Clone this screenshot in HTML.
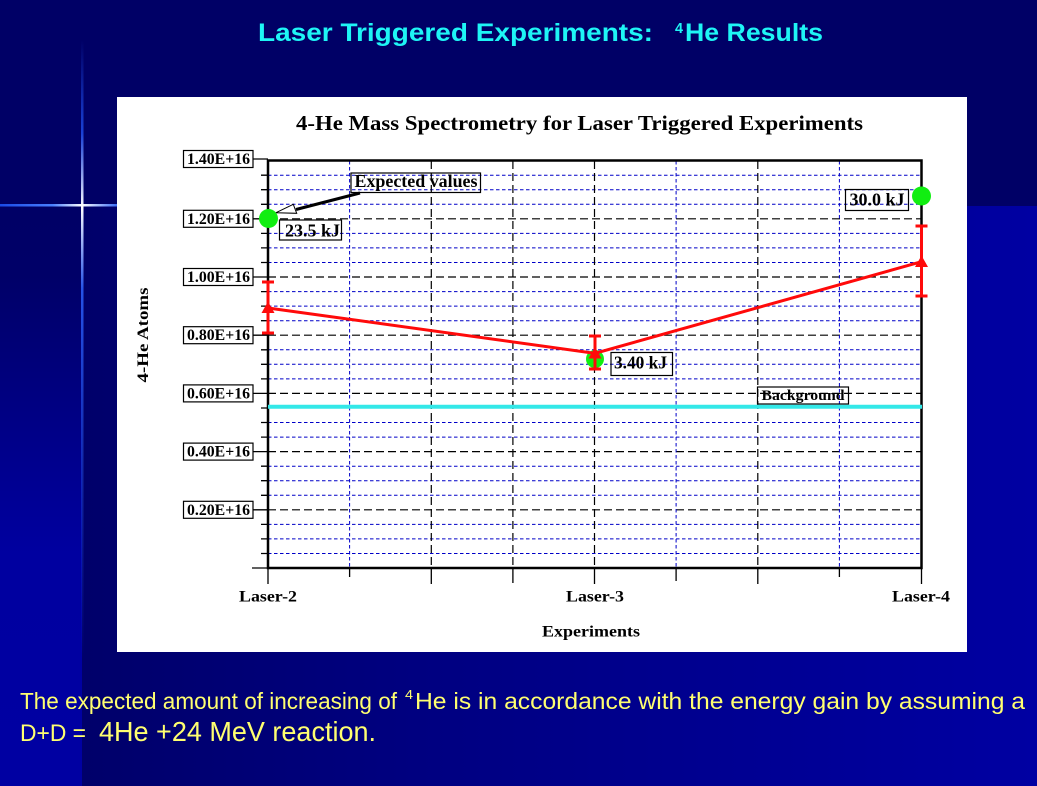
<!DOCTYPE html>
<html>
<head>
<meta charset="utf-8">
<style>
html,body{margin:0;padding:0;background:#000066;}
svg{display:block;}
</style>
</head>
<body>
<svg width="1037" height="786" viewBox="0 0 1037 786" xmlns="http://www.w3.org/2000/svg">
<defs>
  <linearGradient id="gB" x1="0" y1="0" x2="1" y2="0">
    <stop offset="0" stop-color="#00006a"/>
    <stop offset="0.35" stop-color="#000080"/>
    <stop offset="1" stop-color="#0000a2"/>
  </linearGradient>
  <linearGradient id="gS" x1="0" y1="0" x2="0" y2="1">
    <stop offset="0" stop-color="#000066"/>
    <stop offset="0.12" stop-color="#000068"/>
    <stop offset="0.6" stop-color="#0000a0"/>
    <stop offset="1" stop-color="#0000a2"/>
  </linearGradient>
  <linearGradient id="gH" x1="0" y1="0" x2="1" y2="0">
    <stop offset="0" stop-color="#1a4ae6"/>
    <stop offset="0.45" stop-color="#4a80ff"/>
    <stop offset="0.7" stop-color="#ffffff"/>
    <stop offset="1" stop-color="#3a6cf5"/>
  </linearGradient>
  <linearGradient id="gV" x1="0" y1="0" x2="0" y2="1">
    <stop offset="0" stop-color="#2050f0" stop-opacity="0"/>
    <stop offset="0.15" stop-color="#2050f0" stop-opacity="0.8"/>
    <stop offset="0.27" stop-color="#ffffff" stop-opacity="1"/>
    <stop offset="0.4" stop-color="#2a5cf5" stop-opacity="0.9"/>
    <stop offset="1" stop-color="#2050f0" stop-opacity="0"/>
  </linearGradient>
</defs>

<!-- background -->
<rect x="0" y="0" width="1037" height="786" fill="#000066"/>
<rect x="82" y="206" width="955" height="580" fill="url(#gB)"/>
<rect x="0" y="206" width="82" height="580" fill="url(#gS)"/>
<rect x="81" y="40" width="2.5" height="620" fill="url(#gV)"/>
<rect x="0" y="204" width="117" height="2.5" fill="url(#gH)"/>

<!-- main title -->
<g font-family="Liberation Sans, DejaVu Sans, sans-serif" font-weight="bold" fill="#1ef5f5">
  <text x="258" y="41" font-size="25" textLength="395" lengthAdjust="spacingAndGlyphs">Laser Triggered Experiments:</text>
  <text x="675" y="33" font-size="15" textLength="8" lengthAdjust="spacingAndGlyphs">4</text>
  <text x="685" y="41" font-size="25" textLength="138" lengthAdjust="spacingAndGlyphs">He Results</text>
</g>

<!-- white panel -->
<rect x="117" y="97" width="850" height="555" fill="#ffffff"/>

<g font-family="Liberation Serif, DejaVu Serif, serif" font-weight="bold" fill="#000">
  <text x="296" y="130" font-size="21" textLength="567" lengthAdjust="spacingAndGlyphs">4-He Mass Spectrometry for Laser Triggered Experiments</text>
</g>

<!-- grid minor horizontals (blue) -->
<path fill="none" stroke="#0000c8" stroke-width="1" stroke-dasharray="3.5,2.5"
 d="M268 553.5H921 M268 538.9H921 M268 524.4H921 M268 495.3H921 M268 480.7H921 M268 466.2H921
    M268 437.1H921 M268 422.5H921 M268 408H921 M268 378.9H921 M268 364.3H921 M268 349.8H921
    M268 320.7H921 M268 306.1H921 M268 291.6H921 M268 262.5H921 M268 247.9H921 M268 233.4H921
    M268 204.3H921 M268 189.7H921 M268 175.2H921"/>
<!-- grid major horizontals (black) -->
<path fill="none" stroke="#000" stroke-width="1.2" stroke-dasharray="8,4"
 d="M268 509.8H921 M268 451.6H921 M268 393.4H921 M268 335.2H921 M268 277H921 M268 218.8H921"/>
<!-- verticals -->
<path fill="none" stroke="#0000c8" stroke-width="1" stroke-dasharray="3.5,2.5"
 d="M349.6 161V568 M676.1 161V568 M839.4 161V568"/>
<path fill="none" stroke="#000" stroke-width="1.2" stroke-dasharray="8,4"
 d="M431.3 161V568 M512.9 161V568 M594.5 161V568 M757.8 161V568"/>

<!-- y ticks -->
<path fill="none" stroke="#000" stroke-width="1.3"
 d="M261 553.5H268 M261 538.9H268 M261 524.4H268 M261 495.3H268 M261 480.7H268 M261 466.2H268
    M261 437.1H268 M261 422.5H268 M261 408H268 M261 378.9H268 M261 364.3H268 M261 349.8H268
    M261 320.7H268 M261 306.1H268 M261 291.6H268 M261 262.5H268 M261 247.9H268 M261 233.4H268
    M261 204.3H268 M261 189.7H268 M261 175.2H268
    M253 509.8H268 M253 451.6H268 M253 393.4H268 M253 335.2H268 M253 277H268 M253 218.8H268 M253 159H268
    M252 568H268"/>
<!-- x ticks -->
<path fill="none" stroke="#000" stroke-width="1.3"
 d="M268 568V584 M431.3 568V584 M512.9 568V583 M594.5 568V584 M757.8 568V584 M921.5 568V584
    M349.6 568V577 M676.1 568V581 M839.4 568V577"/>

<!-- frame -->
<rect x="268" y="160.5" width="653.5" height="407.5" fill="none" stroke="#000" stroke-width="2.5"/>

<!-- y tick label boxes -->
<g font-family="Liberation Serif, DejaVu Serif, serif" font-weight="bold" font-size="15.5" fill="#000">
  <g fill="#fff" stroke="#000" stroke-width="1.2">
    <rect x="183.5" y="150.5" width="69.5" height="17"/>
    <rect x="183.5" y="210.3" width="69.5" height="17"/>
    <rect x="183.5" y="268.5" width="69.5" height="17"/>
    <rect x="183.5" y="326.7" width="69.5" height="17"/>
    <rect x="183.5" y="384.9" width="69.5" height="17"/>
    <rect x="183.5" y="443.1" width="69.5" height="17"/>
    <rect x="183.5" y="501.3" width="69.5" height="17"/>
  </g>
  <text x="187" y="164" textLength="63" lengthAdjust="spacingAndGlyphs">1.40E+16</text>
  <text x="187" y="223.8" textLength="63" lengthAdjust="spacingAndGlyphs">1.20E+16</text>
  <text x="187" y="282" textLength="63" lengthAdjust="spacingAndGlyphs">1.00E+16</text>
  <text x="187" y="340.2" textLength="63" lengthAdjust="spacingAndGlyphs">0.80E+16</text>
  <text x="187" y="398.4" textLength="63" lengthAdjust="spacingAndGlyphs">0.60E+16</text>
  <text x="187" y="456.6" textLength="63" lengthAdjust="spacingAndGlyphs">0.40E+16</text>
  <text x="187" y="514.8" textLength="63" lengthAdjust="spacingAndGlyphs">0.20E+16</text>

  <!-- axis labels -->
  <text x="239" y="601.5" font-size="16" textLength="58" lengthAdjust="spacingAndGlyphs">Laser-2</text>
  <text x="566" y="601.5" font-size="16" textLength="58" lengthAdjust="spacingAndGlyphs">Laser-3</text>
  <text x="892" y="601.5" font-size="16" textLength="58" lengthAdjust="spacingAndGlyphs">Laser-4</text>
  <text x="542" y="636.5" font-size="16" textLength="98" lengthAdjust="spacingAndGlyphs">Experiments</text>
  <text x="148" y="335" font-size="16" text-anchor="middle" transform="rotate(-90 148 335)" textLength="95" lengthAdjust="spacingAndGlyphs">4-He Atoms</text>
</g>

<!-- background cyan line -->
<line x1="268" y1="406.7" x2="922" y2="406.7" stroke="#33e8e8" stroke-width="4"/>

<!-- green expected points -->
<g fill="#11ee11">
  <circle cx="268.5" cy="218.5" r="9.5"/>
  <circle cx="595" cy="359" r="9"/>
  <circle cx="921.5" cy="196" r="9.5"/>
</g>

<!-- red series -->
<g stroke="#ff0a0a" fill="none">
  <polyline points="268,308 595,353.3 921.5,261.7" stroke-width="3"/>
  <path stroke-width="3" d="M268 282V333 M262 282H274 M262 333H274
     M595 336V369 M589 336H601 M589 369H601
     M921.5 226V296 M915.5 226H927.5 M915.5 296H927.5"/>
</g>
<g fill="#ff0a0a">
  <polygon points="268,301.5 261.5,313 274.5,313"/>
  <polygon points="595,347 588.5,358.5 601.5,358.5"/>
  <polygon points="921.5,255.5 915,267 928,267"/>
</g>

<!-- annotations -->
<g fill="none" stroke="#000" stroke-width="1.2">
  <rect x="351" y="173" width="129.5" height="19.5"/>
  <rect x="279.5" y="220" width="62" height="20"/>
  <rect x="611" y="352.5" width="61.5" height="23"/>
  <rect x="845.5" y="189.5" width="63" height="21"/>
  <rect x="757.5" y="387" width="91" height="17"/>
</g>
<line x1="360" y1="193" x2="296" y2="209.5" stroke="#000" stroke-width="3"/>
<polygon points="276,212.7 293.3,204.3 296.7,213.3" fill="#fff" stroke="#000" stroke-width="1"/>

<g font-family="Liberation Serif, DejaVu Serif, serif" font-weight="bold" fill="#000">
  <text x="354.5" y="187" font-size="18" textLength="123" lengthAdjust="spacingAndGlyphs">Expected values</text>
  <text x="285" y="236.5" font-size="18" textLength="55" lengthAdjust="spacingAndGlyphs">23.5 kJ</text>
  <text x="614" y="368.5" font-size="18" textLength="53" lengthAdjust="spacingAndGlyphs">3.40 kJ</text>
  <text x="849.5" y="205.5" font-size="18" textLength="55" lengthAdjust="spacingAndGlyphs">30.0 kJ</text>
  <text x="761.5" y="400" font-size="14.5" textLength="83" lengthAdjust="spacingAndGlyphs">Background</text>
</g>

<!-- bottom text -->
<g font-family="Liberation Sans, DejaVu Sans, sans-serif" fill="#ffff70">
  <text x="20" y="709" font-size="23" textLength="377" lengthAdjust="spacingAndGlyphs">The expected amount of increasing of</text>
  <text x="405" y="699" font-size="13" textLength="8" lengthAdjust="spacingAndGlyphs">4</text>
  <text x="415" y="709" font-size="23" textLength="610" lengthAdjust="spacingAndGlyphs">He is in accordance with the energy gain by assuming a</text>
  <text x="20" y="741" font-size="24" textLength="66" lengthAdjust="spacingAndGlyphs">D+D =</text>
  <text x="99" y="741" font-size="28" textLength="277" lengthAdjust="spacingAndGlyphs">4He +24 MeV reaction.</text>
</g>
</svg>
</body>
</html>
